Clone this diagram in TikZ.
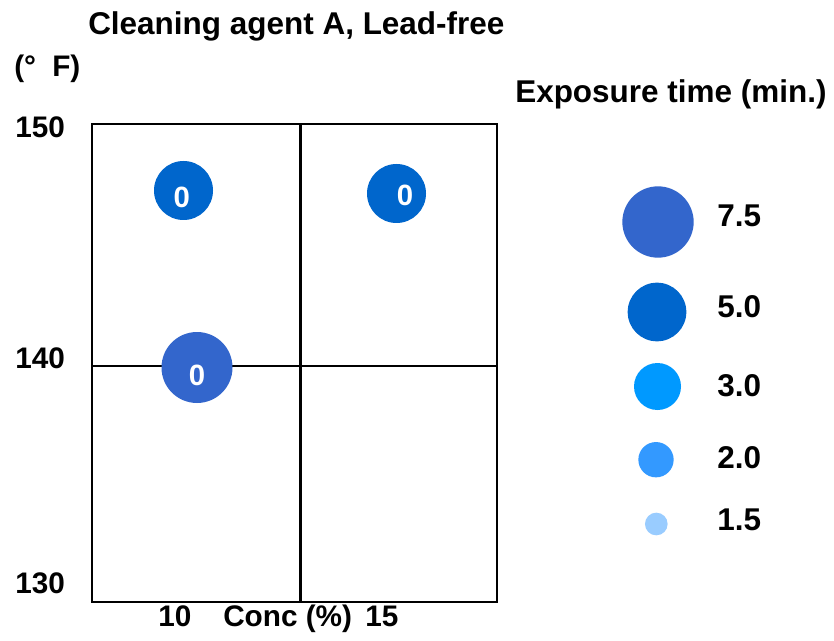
\documentclass[tikz,border=0pt]{standalone}
\usepackage{fontspec}
\setmainfont{Liberation Sans}
\definecolor{cA}{HTML}{3366CC}
\definecolor{cB}{HTML}{0066CC}
\definecolor{cC}{HTML}{0099FF}
\definecolor{cD}{HTML}{3399FF}
\definecolor{cE}{HTML}{99CCFF}
\tikzset{
  axlab/.style={font=\fontsize{22.3}{26}\selectfont\bfseries, inner sep=0pt, anchor=base west},
  ttl/.style={font=\fontsize{23.6}{28}\selectfont\bfseries, inner sep=0pt, anchor=base west},
  leglab/.style={font=\fontsize{23.6}{28}\selectfont\bfseries, inner sep=0pt, anchor=base west},
  bub/.style={circle, inner sep=0pt, draw=none},
  zero/.style={font=\fontsize{22}{26}\selectfont\bfseries, text=white, inner sep=0pt},
  frame/.style={line width=1.5pt},
  midv/.style={line width=2.25pt},
}
\begin{document}
\begin{tikzpicture}[x=0.75pt,y=-0.75pt]
\useasboundingbox[fill=white] (0,0) rectangle (834,641);
% plot frame
\coordinate (tl) at (92,124);
\coordinate (br) at (497,602);
\coordinate (vt) at (300,124);
\coordinate (vb) at (300,602);
\coordinate (hl) at (92,366);
\coordinate (hr) at (497,366);
\draw[frame] (tl) rectangle (br);
\draw[frame] (hl) -- (hr);
\draw[midv] (vt) -- (vb);
% data bubbles
\node[bub, fill=cB, minimum size=44.25pt] (b1) at (183.5,190.5) {};
\node[bub, fill=cB, minimum size=44.25pt] (b2) at (396.5,193.5) {};
\node[bub, fill=cA, minimum size=53.25pt] (b3) at (197,367.5) {};
\node[zero] (z1) at (181.7,197.5) {0};
\node[zero] (z2) at (405,195.5) {0};
\node[zero] (z3) at (197,375.5) {0};
% titles and axis labels
\node[ttl] (title) at (88,35) {Cleaning agent A, Lead-free};
\node[axlab] (unitL) at (14,77) {(°};
\node[axlab] (unitR) at (52,77) {F)};
\node[axlab] (y150) at (15,138) {150};
\node[axlab] (y140) at (15,368) {140};
\node[axlab] (y130) at (15,593) {130};
\node[axlab] (x10) at (158,626) {10};
\node[axlab] (xlab) at (223,626) {Conc (\%)};
\node[axlab] (x15) at (365,626) {15};
% legend
\node[ttl] (legt) at (515,103) {Exposure time (min.)};
\node[bub, fill=cA, minimum size=53.5pt] (l1) at (658,222) {};
\node[bub, fill=cB, minimum size=44pt] (l2) at (657,312) {};
\node[bub, fill=cC, minimum size=35.25pt] (l3) at (657.5,386.5) {};
\node[bub, fill=cD, minimum size=26.5pt] (l4) at (656,459.7) {};
\node[bub, fill=cE, minimum size=17pt] (l5) at (656.3,524) {};
\node[leglab] (t1) at (717,227) {7.5};
\node[leglab] (t2) at (717,317) {5.0};
\node[leglab] (t3) at (717,396) {3.0};
\node[leglab] (t4) at (717,468) {2.0};
\node[leglab] (t5) at (717,530) {1.5};
\end{tikzpicture}
\end{document}
